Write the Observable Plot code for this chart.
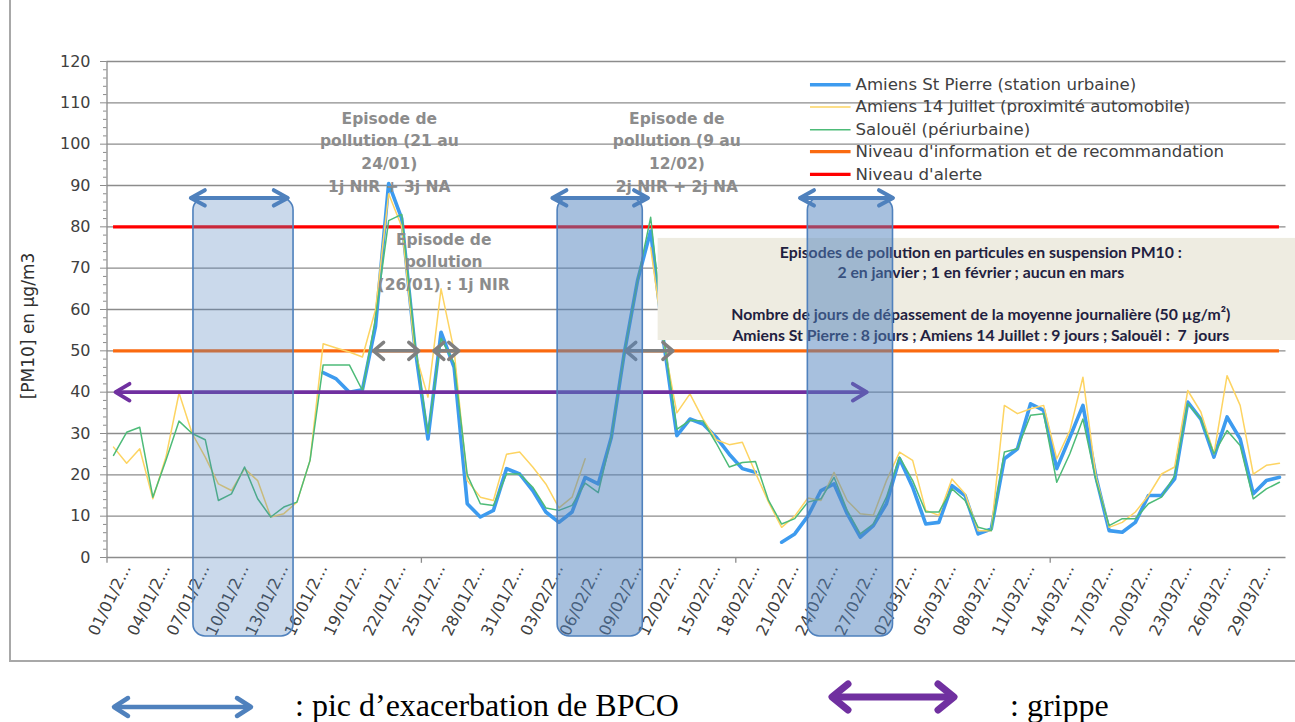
<!DOCTYPE html>
<html><head><meta charset="utf-8">
<script src="https://cdn.jsdelivr.net/npm/d3@7"></script>
<script src="https://cdn.jsdelivr.net/npm/@observablehq/plot@0.6"></script>
<style>
html,body{margin:0;padding:0;background:#fff}
body{width:1295px;height:722px;overflow:hidden;position:relative;font-family:"DejaVu Sans"}
#frame{position:absolute;left:9px;top:-5px;width:1300px;height:667px;border-left:2px solid #a8a8a8;border-bottom:2px solid #a8a8a8;box-sizing:border-box}
#chart{position:absolute;left:0;top:0}
#legend{position:absolute;left:0;top:672px;width:1295px;height:50px}
</style></head><body>
<div id="frame"></div><div id="chart"></div><div id="legend"></div>
<script>
// ---- data (day index 0 = 01/01, 89 = 31/03) ----
const seriesNames = ["Amiens St Pierre (station urbaine)", "Amiens 14 Juillet (proximité automobile)", "Salouël (périurbaine)"];
const levelNames = ["Niveau d'information et de recommandation", "Niveau d'alerte"];
const stPierre = [null,null,null,null,null,null,null,null,null,null,null,null,null,null,null,null,
  44.7,43.2,40,40.6,56,90.5,82,51,28.7,54.5,46,13,9.8,11.4,21.5,20.2,16.2,11,8.5,11,19.4,17.8,29.1,49.7,
  67,79,52,29.5,33.5,32.3,29.1,25,21.5,20.6,null,3.7,5.7,10,16.2,17.8,10.6,4.9,7.7,13,
  23.9,17,8.1,8.5,17.4,15,5.7,6.9,23.9,26.3,37.2,35.6,21.5,29.1,36.8,19.4,6.5,6.1,8.5,15,
  15,19,37.6,33.5,24.3,34,28.7,15.4,18.6,19.4];
const juillet14 = [26.7,22.8,26.3,14.2,24.3,39.8,30,24.3,17.8,16.2,21.5,18.6,9.8,10.6,13.4,23.5,
  51.7,50.7,49.7,48.5,60,88,80,50,38.8,65,50,18.6,14.6,13.8,25,25.5,21.9,17.8,12,14.6,23.9,null,null,null,
  null,75,52,35,39.6,33.5,28.5,27.3,27.9,20.5,13.4,7.3,10,14.4,13.8,20.6,13.8,10.6,10.2,18.6,
  25.5,23.5,11.4,10.2,19,15.4,6.5,6.5,36.8,34.8,36,36.8,23.9,30.7,43.6,19.4,7.3,8.5,11,15,
  20.2,21.9,40.4,35.2,25.1,44,36.8,20.2,22.3,22.8];
const salouel = [24.7,30.3,31.5,14.6,23.5,33,30,28.5,13.8,15.4,21.9,14.2,9.8,12.2,13.4,23.5,
  46.6,46.6,46.6,40.4,58,81.5,83,52,30,53,47,20,13,12.6,20.2,20.2,17,12,11.4,12.6,18,15.7,29.1,49.7,
  67,82.3,53,31,33.2,33,27.7,21.9,23,23.2,13.8,8.1,9.4,13.4,14.2,19.4,11.4,5.7,8.1,14.6,
  24.3,18.6,11,11,16.6,13.8,7.3,6.5,25.5,26.3,34.4,34.8,18.2,25.1,33.5,18.6,7.7,9.4,9.4,13,
  14.6,19.8,37.2,33.5,25.1,30.7,27.1,14.2,16.6,18.2];
const yTicks = [0,10,20,30,40,50,60,70,80,90,100,110,120];
const yMinorTicks = [2,4,6,8,12,14,16,18,22,24,26,28,32,34,36,38,42,44,46,48,52,54,56,58,62,64,66,68,72,74,76,78,82,84,86,88,92,94,96,98,102,104,106,108,112,114,116,118];
const xTickDays = [0,3,6,9,12,15,18,21,24,27,30,33,36,39,42,45,48,51,54,57,60,63,66,69,72,75,78,81,84,87];
const xTickLabels = ["01/01/2...","04/01/2...","07/01/2...","10/01/2...","13/01/2...","16/01/2...","19/01/2...","22/01/2...","25/01/2...","28/01/2...","31/01/2...","03/02/2...","06/02/2...","09/02/2...","12/02/2...","15/02/2...","18/02/2...","21/02/2...","24/02/2...","27/02/2...","02/03/2...","05/03/2...","08/03/2...","11/03/2...","14/03/2...","17/03/2...","20/03/2...","23/03/2...","26/03/2...","29/03/2..."];
const xMajorBounds = [0, 24, 48, 72];
const infoLevel = 50, alertLevel = 80;
const bpcoPeaks = [{start: 6.1, end: 13.74, aStart: 5.9, aEnd: 13.3, alpha: 0.3},
                   {start: 33.9, end: 40.4, aStart: 33.5, aEnd: 40.8, alpha: 0.5},
                   {start: 53.0, end: 59.5, aStart: 52.4, aEnd: 59.5, alpha: 0.5}];
const fluPeriod = [{start: 0.15, end: 57.5}];
const fluLevel = 40;
const episodeSpans = [{start: 19.85, end: 23.3}, {start: 24.45, end: 26.35}, {start: 39.1, end: 42.7}];
const episodeNotes = [
  {day: 21.05, v: 98.5, text: "Episode de\npollution (21 au\n24/01)\n1j NIR + 3j NA"},
  {day: 43.0, v: 98.5, text: "Episode de\npollution (9 au\n12/02)\n2j NIR + 2j NA"},
  {day: 25.2, v: 72, text: "Episode de\npollution\n(26/01) : 1j NIR"}
];
const summaryBox = [{x1: 41.57, x2: 90.3, y1: 52.5, y2: 77.2}];
const summaryText = "Episodes de pollution en particules en suspension PM10 :\n2 en janvier ; 1 en février ; aucun en mars\n\nNombre de jours de dépassement de la moyenne journalière (50 µg/m²)\nAmiens St Pierre : 8 jours ; Amiens 14 Juillet : 9 jours ; Salouël :  7  jours";

const colors = {blue: "#3d9bef", yellow: "#fdd462", green: "#4dbb78", orange: "#fa6a10", red: "#ff0000", purple: "#7030a0", bpco: "#4f81bd", grey: "#808080"};

const legendItems = [
  {label: seriesNames[0], v: 114.4, stroke: colors.blue, w: 3.5},
  {label: seriesNames[1], v: 109.0, stroke: colors.yellow, w: 1.6},
  {label: seriesNames[2], v: 103.5, stroke: colors.green, w: 1.6},
  {label: levelNames[0], v: 98.2, stroke: colors.orange, w: 3.2},
  {label: levelNames[1], v: 92.7, stroke: colors.red, w: 3.2}
];

const toRows = arr => arr.map((v, i) => ({day: i, v}));
// chevron arrowhead symbol (tip at the anchor, pointing right)
const chevron = ratio => ({draw(ctx, size) {
  const r = Math.sqrt(size / Math.PI);
  ctx.moveTo(-r, -r * ratio); ctx.lineTo(0, 0); ctx.lineTo(-r, r * ratio);
}});
function doubleArrow(data, y, x1, x2, {stroke, strokeWidth, r, ratio}) {
  const head = {y, symbol: chevron(ratio), r, fill: "none", stroke, strokeWidth, strokeLinejoin: "round", strokeLinecap: "round"};
  return [
    Plot.ruleY(data, {y, x1, x2, stroke, strokeWidth}),
    Plot.dot(data, {x: x1, rotate: 180, ...head}),
    Plot.dot(data, {x: x2, rotate: 0, ...head})
  ];
}

const chart = Plot.plot({
  width: 1295, height: 665,
  marginLeft: 106.5, marginRight: 9.5, marginTop: 61, marginBottom: 108,
  x: {domain: [-0.5, 89.5], axis: null},
  y: {domain: [0, 120], axis: null},
  style: {fontFamily: "DejaVu Sans", background: "transparent", overflow: "visible"},
  marks: [
    Plot.ruleY(yTicks, {stroke: "#8c8c8c", strokeWidth: 1.3}),
    Plot.ruleX([-0.5], {stroke: "#8c8c8c", strokeWidth: 1.3}),
    Plot.axisY({ticks: yTicks, tickSize: 6.5, tickPadding: 10, fontSize: 16, stroke: "#8c8c8c", fill: "#404040", label: null}),
    Plot.axisY({ticks: yMinorTicks, tickSize: 3.5, tickFormat: () => "", stroke: "#8c8c8c", label: null}),
    Plot.ruleX(xMajorBounds, {x: d => d - 0.5, y1: 0, y2: -1.4, stroke: "#8c8c8c", strokeWidth: 1.3}),
    Plot.text(xTickDays, {x: d => d, y: 0, text: (d, i) => xTickLabels[i], rotate: -64, textAnchor: "end", dx: 13, dy: 8, fontSize: 16, fill: "#404040"}),
    Plot.text(["[PM10] en µg/m3"], {x: -0.5, y: 56, dx: -78, rotate: -90, fontSize: 17, fill: "#303030"}),
    Plot.ruleY([alertLevel], {x1: 0, x2: 89, stroke: colors.red, strokeWidth: 3.2}),
    Plot.ruleY([infoLevel], {x1: 0, x2: 89, stroke: colors.orange, strokeWidth: 3.2}),
    Plot.line(toRows(stPierre), {x: "day", y: "v", stroke: colors.blue, strokeWidth: 3.6, strokeLinejoin: "round"}),
    Plot.line(toRows(juillet14), {x: "day", y: "v", stroke: colors.yellow, strokeWidth: 1.5}),
    Plot.line(toRows(salouel), {x: "day", y: "v", stroke: colors.green, strokeWidth: 1.5}),
    ...doubleArrow(fluPeriod, fluLevel, d => d.start, d => d.end, {stroke: colors.purple, strokeWidth: 3.8, r: 14, ratio: 0.6}),
    ...doubleArrow(episodeSpans, infoLevel, d => d.start, d => d.end, {stroke: colors.grey, strokeWidth: 3.5, r: 10, ratio: 0.85}),
    Plot.rect(summaryBox, {x1: "x1", x2: "x2", y1: "y1", y2: "y2", fill: "#eeece1"}),
    Plot.text([summaryText], {x: 66.2, y: 64.1, text: d => d, fontSize: 15.8, fontFamily: "Lato", fontWeight: "bold", fill: "#1f2140", lineHeight: 1.31}),
    Plot.text(episodeNotes, {x: "day", y: "v", text: "text", fontSize: 15.5, fontWeight: "bold", fill: "#8c8c8c", lineHeight: 1.46}),
    Plot.rect(bpcoPeaks, {x1: "start", x2: "end", y1: -19.1, y2: 86.9, fill: colors.bpco, fillOpacity: d => d.alpha, stroke: colors.bpco, strokeWidth: 1.6, rx: 12, ry: 12}),
    ...doubleArrow(bpcoPeaks, 87.0, d => d.aStart, d => d.aEnd, {stroke: colors.bpco, strokeWidth: 4, r: 14, ratio: 0.55}),
    Plot.ruleY(legendItems, {y: "v", x1: 53.2, x2: 56.3, stroke: d => d.stroke, strokeWidth: d => d.w}),
    Plot.text(legendItems, {x: 56.64, y: "v", text: "label", textAnchor: "start", fontSize: 16.6, fill: "#404040"})
  ]
});
document.getElementById("chart").appendChild(chart);

// bottom key (outside the SVG chart)
document.getElementById("legend").innerHTML = `
<svg width="1295" height="50" style="overflow:visible">
  <g stroke="${colors.bpco}" stroke-width="4.5" fill="none" stroke-linecap="round" stroke-linejoin="round">
    <line x1="115" y1="35" x2="250" y2="35"/>
    <polyline points="128,26 114,35 128,44"/>
    <polyline points="237,26 251,35 237,44"/>
  </g>
  <text x="295" y="44" font-family="Liberation Serif" font-size="32" fill="#000">: pic d’exacerbation de BPCO</text>
  <g stroke="${colors.purple}" stroke-width="7" fill="none" stroke-linecap="round" stroke-linejoin="round">
    <line x1="833" y1="25" x2="953" y2="25"/>
    <polyline points="848,12 832,25 848,38"/>
    <polyline points="938,12 954,25 938,38"/>
  </g>
  <text x="1010" y="44" font-family="Liberation Serif" font-size="32" fill="#000">: grippe</text>
</svg>`;
</script>
</body></html>
